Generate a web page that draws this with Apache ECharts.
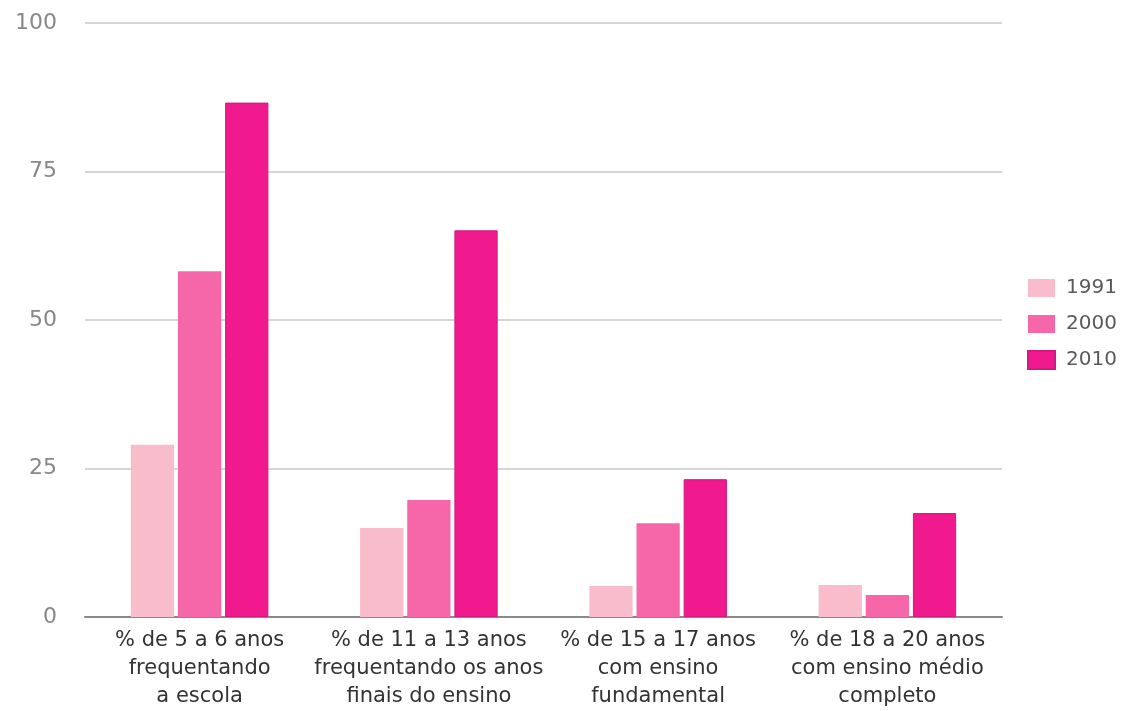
<!DOCTYPE html>
<html>
<head>
<meta charset="utf-8">
<script src="https://cdn.jsdelivr.net/npm/echarts@6/dist/echarts.min.js"></script>
<style>
  html, body { margin: 0; padding: 0; background: #ffffff; }
  #chart { width: 1131px; height: 711px; }
</style>
</head>
<body>
<div id="chart"></div>
<script>
// Categories (indicator groups)
const categories = [
  '% de 5 a 6 anos\nfrequentando\na escola',
  '% de 11 a 13 anos\nfrequentando os anos\nfinais do ensino',
  '% de 15 a 17 anos\ncom ensino\nfundamental',
  '% de 18 a 20 anos\ncom ensino médio\ncompleto'
];

// Values (%) per census year
const values1991 = [29.0, 15.0, 5.2, 5.4];
const values2000 = [58.2, 19.7, 15.8, 3.7];
const values2010 = [86.6, 65.1, 23.2, 17.5];

const yTicks = [0, 25, 50, 75, 100];

const colors = {
  '1991': '#f8bccb',
  '2000': '#f667a9',
  '2010': '#f0198d'
};

const chart = echarts.init(document.getElementById('chart'), null, { renderer: 'canvas' });

function barSeries(name, data, border) {
  return {
    name: name,
    type: 'bar',
    data: data,
    barGap: '9%',
    barCategoryGap: '40%',
    itemStyle: {
      color: colors[name],
      borderColor: border,
      borderWidth: border ? 1 : 0
    }
  };
}

chart.setOption({
  animation: false,
  backgroundColor: '#ffffff',
  grid: { left: 85, right: 129, top: 23, bottom: 91 },
  legend: {
    orient: 'vertical',
    left: 1022,
    top: 273,
    itemWidth: 27,
    itemHeight: 18,
    itemGap: 16,
    icon: 'rect',
    textStyle: { fontFamily: 'DejaVu Sans', fontSize: 20, color: '#5a5a5a', padding: [0, 0, 0, 6] },
    data: ['1991', '2000', '2010']
  },
  xAxis: {
    type: 'category',
    data: categories,
    axisLine: { lineStyle: { color: '#8a8a8a', width: 2 } },
    axisTick: { show: false },
    axisLabel: {
      interval: 0,
      margin: 10,
      fontFamily: 'DejaVu Sans',
      fontSize: 21,
      lineHeight: 28,
      color: '#333333',
      align: 'center'
    }
  },
  yAxis: {
    type: 'value',
    min: yTicks[0],
    max: yTicks[yTicks.length - 1],
    interval: yTicks[1] - yTicks[0],
    axisLine: { show: false },
    axisTick: { show: false },
    splitLine: { lineStyle: { color: '#d6d6d6', width: 2 } },
    axisLabel: {
      margin: 28,
      fontFamily: 'DejaVu Sans',
      fontSize: 22,
      color: '#888888'
    }
  },
  series: [
    barSeries('1991', values1991, null),
    barSeries('2000', values2000, null),
    barSeries('2010', values2010, '#d2197f')
  ]
});
</script>
</body>
</html>
